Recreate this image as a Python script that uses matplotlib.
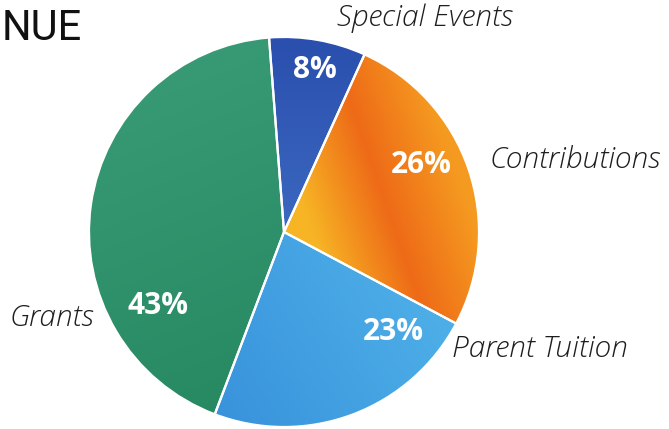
import numpy as np
import matplotlib
matplotlib.use('Agg')
import matplotlib.pyplot as plt
from matplotlib.colors import LinearSegmentedColormap

categories = ['Special Events', 'Contributions', 'Parent Tuition', 'Grants']
shares = [8, 26, 23, 43]
pct_labels = ['8%', '26%', '23%', '43%']

# two tones per slice, to hint at the watercolour wash
tones = [('#2a4fae', '#4d82d2'),
         ('#f7b425', '#ea6418'),
         ('#2f86d6', '#5cc2f0'),
         ('#22845c', '#3a9d78')]
W, H = 669, 429
cx, cy, r = 284, 429 - 232, 195

fig = plt.figure(figsize=(W / 100, H / 100), dpi=100)
ax = fig.add_axes([0, 0, 1, 1])
wedges, _ = ax.pie(shares, center=(cx, cy), radius=r, startangle=94.4,
                   counterclock=False,
                   colors=[t[0] for t in tones],
                   wedgeprops=dict(edgecolor='white', linewidth=1.6))
ax.set_xlim(0, W)
ax.set_ylim(0, H)
ax.set_aspect('equal')
ax.axis('off')

# gradient fill clipped to each wedge
grad_dirs = [(0, 1), (1, 0.2), (-1, -0.6), (0.4, -1)]
yy, xx = np.mgrid[cy - r:cy + r:200j, cx - r:cx + r:200j]
for w, (c0, c1), (dx, dy) in zip(wedges, tones, grad_dirs):
    g = ((xx - cx) * dx + (yy - cy) * dy) / (r * np.hypot(dx, dy))
    g = (g - g.min()) / (g.max() - g.min())
    cmap = LinearSegmentedColormap.from_list('t', [c1, c0])
    im = ax.imshow(g, extent=(cx - r, cx + r, cy - r, cy + r), origin='lower',
                   cmap=cmap, zorder=1.5, interpolation='bilinear')
    im.set_clip_path(w)
for w in wedges:
    w.set_facecolor('none')
    w.set_zorder(2)

# contributions gets a red-orange streak
streak = LinearSegmentedColormap.from_list('s', ['#f7b425', '#ee6a17', '#f59a20'])
g = ((xx - cx) * 1.0 + (yy - cy) * 0.35) / r
im = ax.imshow(np.clip((g - 0.15) / 0.85, 0, 1), extent=(cx - r, cx + r, cy - r, cy + r),
               origin='lower', cmap=streak, zorder=1.6, interpolation='bilinear')
im.set_clip_path(wedges[1])

label_xy = [(425, 18), (575, 160), (540, 349), (52, 318)]
pct_xy = [(315, 70), (421, 165), (393, 332), (158, 306)]
for name, (lx, ly), p, (px, py) in zip(categories, label_xy, pct_labels, pct_xy):
    ax.text(lx, H - ly, name, ha='center', va='center', fontsize=21.5,
            style='italic', family='Open Sans', weight='light',
            color='#1e1e1e', zorder=3)
    ax.text(px, H - py, p, ha='center', va='center', fontsize=21.5,
            weight='bold', family='Open Sans', color='white', zorder=3)

ax.text(2, H - 28, 'NUE', ha='left', va='center', fontsize=30,
        family='Roboto', color='#111111', zorder=3)

fig.savefig('out.png', dpi=100)
